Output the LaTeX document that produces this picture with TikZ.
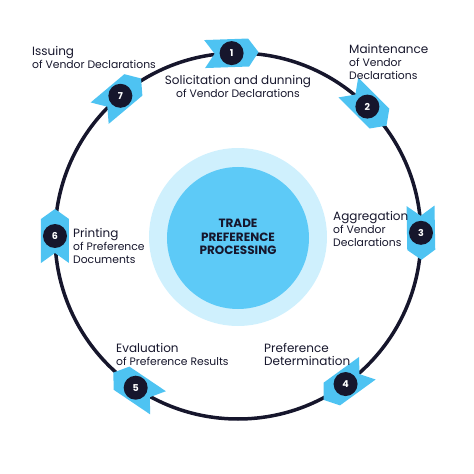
\documentclass[tikz,border=0pt]{standalone}
\usepackage{fontspec}
\setmainfont{Poppins}
\usepackage{tikz}
\usetikzlibrary{positioning}

\definecolor{navy}{HTML}{16162C}
\definecolor{chev}{HTML}{4EC3F2}
\definecolor{core}{HTML}{5DCAF7}
\definecolor{halo}{HTML}{CFF0FD}
\newcommand{\lbltop}[1]{{\fontsize{12}{13}\selectfont #1}}

\begin{document}
\begin{tikzpicture}[
  x=1pt, y=1pt,
  ring/.style={draw=navy, line width=3.5pt},
  badge/.style={circle, fill=navy, text=white, minimum size=24pt, inner sep=0pt,
                font=\fontsize{9.5}{10}\selectfont\bfseries},
  lbl/.style={anchor=west, align=left, text=navy, inner sep=0pt,
              font=\fontsize{10.8}{13}\selectfont},
  title/.style={align=center, text=navy, inner sep=0pt,
                font=\fontsize{12}{13.5}\selectfont\bfseries}
]
  \useasboundingbox (-238,-238) rectangle (236,236);

  % centre
  \fill[halo] (0,-1) circle (89);
  \fill[core] (0,-2) circle (71);
  \node[title] (hub) at (0,-1) {TRADE\\PREFERENCE\\PROCESSING};

  % cycle
  \draw[ring] (0,0) circle (183);

  \foreach \a/\n in {92/1, 45/2, 1/3, -54/4, -124/5, 180/6, 130/7} {
    \begin{scope}[shift={(\a:183)}, rotate=\a-90]
      \fill[chev] (-27,14) -- (17,14) -- (27,0) -- (17,-14) -- (-27,-14) -- (-17,0) -- cycle;
    \end{scope}
    \node[badge] (m\n) at (\a:183) {\n};
  }

  % steps
  \node[lbl, anchor=center, align=center] (l1) at (0,149.5)
    {\lbltop{Solicitation and dunning}\\of Vendor Declarations};
  \node[lbl] (l2) at (111,174) {\lbltop{Maintenance}\\of Vendor\\Declarations};
  \node[lbl] (l3) at (95,7) {\lbltop{Aggregation}\\of Vendor\\Declarations};
  \node[lbl] (l4) at (26,-118.5) {\lbltop{Preference}\\\lbltop{Determination}};
  \node[lbl] (l5) at (-122,-118.5) {\lbltop{Evaluation}\\of Preference Results};
  \node[lbl] (l6) at (-165,-9.5) {\lbltop{Printing}\\of Preference\\Documents};
  \node[lbl] (l7) at (-206,179) {\lbltop{Issuing}\\of Vendor Declarations};
\end{tikzpicture}
\end{document}
